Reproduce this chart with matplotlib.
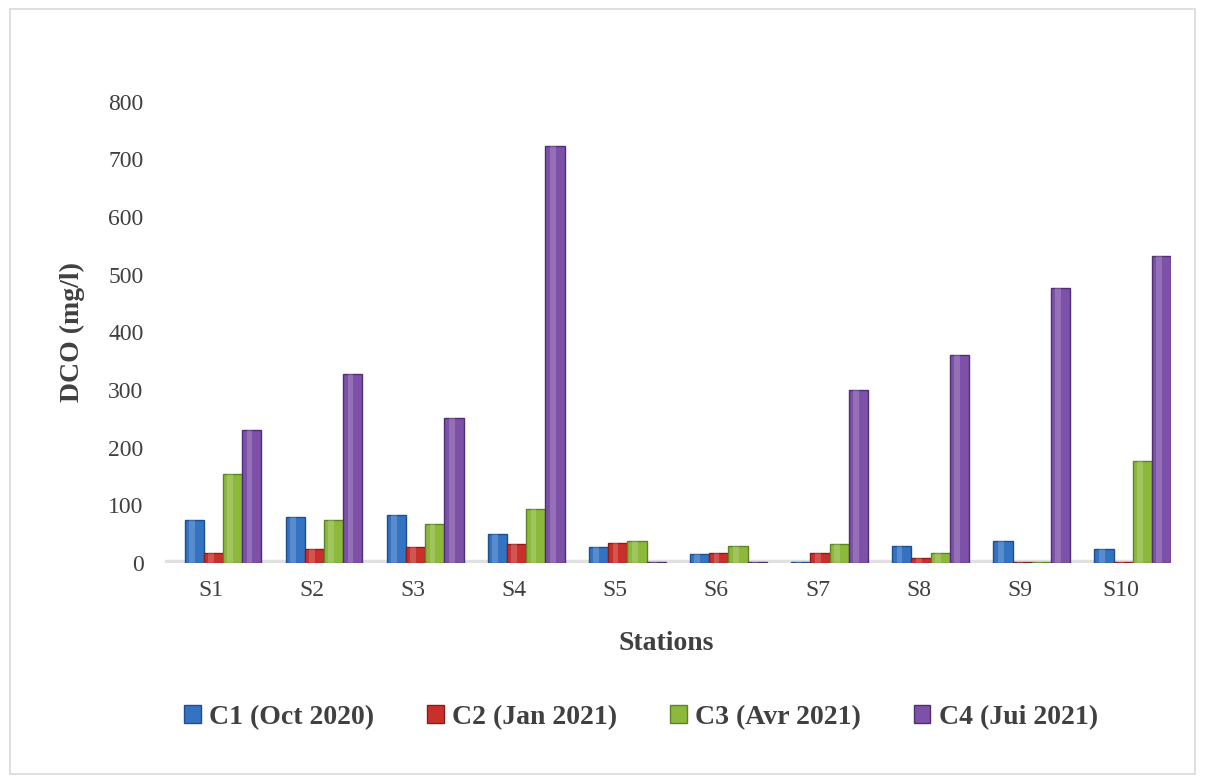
import numpy as np
import matplotlib
matplotlib.use('Agg')
import matplotlib.pyplot as plt
from matplotlib.patches import Rectangle

# Data
stations = ['S1', 'S2', 'S3', 'S4', 'S5', 'S6', 'S7', 'S8', 'S9', 'S10']
c1_oct2020 = [75, 80, 83, 50, 27, 16, 1, 29, 38, 25]
c2_jan2021 = [17, 25, 28, 33, 35, 18, 17, 8, 2, 2]
c3_avr2021 = [155, 75, 67, 93, 38, 29, 33, 18, 2, 177]
c4_jui2021 = [230, 328, 252, 723, 1, 1, 300, 361, 477, 532]
series_labels = ['C1 (Oct 2020)', 'C2 (Jan 2021)', 'C3 (Avr 2021)', 'C4 (Jui 2021)']

colors = ['#3473c2', '#c9302c', '#8cb93c', '#7d51a8']
edges = ['#1f4e8c', '#8c1c1a', '#5f8224', '#4f2f73']

plt.rcParams['font.family'] = ['Liberation Serif', 'DejaVu Serif']

fig = plt.figure(figsize=(12.05, 7.83), dpi=100)
ax = fig.add_axes([0.133, 0.281, 0.839, 0.589])

# light border around the whole chart
fig.patches.append(Rectangle((0.008, 0.012), 0.984, 0.976, transform=fig.transFigure,
                             fill=False, edgecolor='#d9d9d9', linewidth=1.2))

x = np.arange(len(stations))
width = 0.19
all_series = [c1_oct2020, c2_jan2021, c3_avr2021, c4_jui2021]
for i, vals in enumerate(all_series):
    pos = x + 0.12 + (i - 1.5) * width
    ax.bar(pos, vals, width=width, color=colors[i], edgecolor=edges[i],
           linewidth=1.0, label=series_labels[i], zorder=3)
    # lighter highlight stripe to give a cylinder look
    ax.bar(pos - width * 0.12, vals, width=width * 0.3, color='white',
           alpha=0.18, linewidth=0, zorder=4)

# grey "floor" under the bars
ax.axhspan(-7, 5, xmin=0.005, xmax=1.0, color='#e0e0e0', zorder=1)

ax.set_xlim(-0.5, 9.5)
ax.set_ylim(0, 800)
ax.set_yticks(range(0, 801, 100))
ax.set_xticks(x)
ax.set_xticklabels(stations)
ax.tick_params(axis='both', length=0, labelsize=17, labelcolor='#404040', pad=12)
for sp in ax.spines.values():
    sp.set_visible(False)

ax.set_ylabel('DCO (mg/l)', fontsize=20, fontweight='bold', color='#404040', labelpad=17)
ax.set_xlabel('Stations', fontsize=20, fontweight='bold', color='#404040', labelpad=22)

handles, labels = ax.get_legend_handles_labels()
leg = fig.legend(handles[:4], labels[:4], loc='center', bbox_to_anchor=(0.532, 0.084),
                 ncol=4, frameon=False, handlelength=0.6, handleheight=0.6,
                 handletextpad=0.3, columnspacing=1.9,
                 prop={'size': 20, 'weight': 'bold'})
for t in leg.get_texts():
    t.set_color('#404040')

fig.savefig('out.png', dpi=100)
